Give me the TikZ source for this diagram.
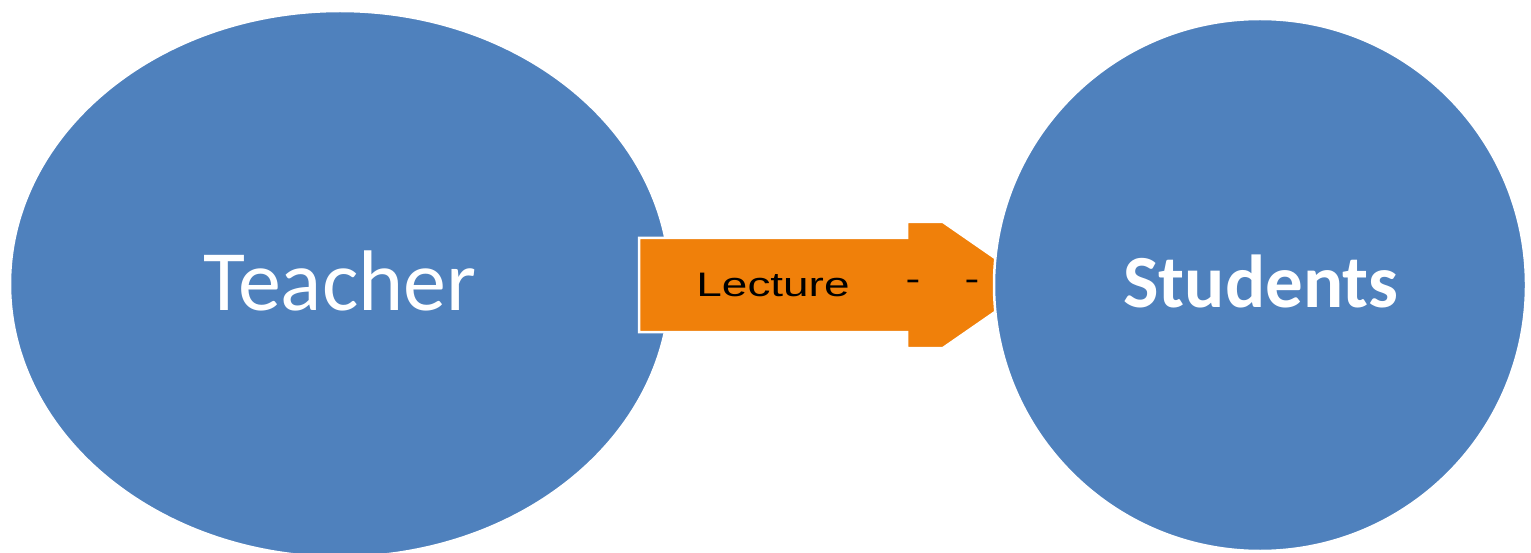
\documentclass[tikz,border=0pt]{standalone}
\usepackage{fontspec}
\usepackage{graphicx}
\setmainfont{Carlito}
\newfontfamily\labelfont{Liberation Sans}
\definecolor{shapeblue}{HTML}{4F81BD}
\definecolor{arroworange}{HTML}{F0800A}
\tikzset{
  blob/.style={fill=shapeblue, draw=white, line width=2.5pt},
  bigtext/.style={text=white, inner sep=0pt},
  flowarrow/.style={fill=arroworange, draw=white, line width=2.5pt, line join=miter},
  arrowtext/.style={text=black, inner sep=0pt, font=\labelfont\fontsize{34}{34}\selectfont}
}
\begin{document}
\begin{tikzpicture}[x=1pt,y=-1pt]
  \useasboundingbox (0,0) rectangle (1531,553);
  \clip (0,0) rectangle (1531,553);
  % left ellipse
  \draw[blob] (340,284) ellipse [x radius=330, y radius=273];
  % block arrow, its point tucked under the circle
  \draw[flowarrow] (639,238) -- (907,238) -- (907,222) -- (943,222)
       -- (1034,285) -- (943,348) -- (907,348) -- (907,332) -- (639,332) -- cycle;
  % right circle
  \draw[blob] (1260,285) circle [radius=266];
  % labels
  \node[bigtext, font=\fontsize{86}{86}\selectfont] (teacher) at (340,281) {Teacher};
  \node[bigtext, font=\bfseries\fontsize{75}{75}\selectfont] (students) at (1261,281) {Students};
  \node[arrowtext] (lecture) at (773,285) {\scalebox{1.35}[1]{Lecture}};
  \node[arrowtext] (dashA) at (913,285) {\scalebox{1.3}[1]{-}};
  \node[arrowtext] (dashB) at (972,285) {\scalebox{1.3}[1]{-}};
\end{tikzpicture}
\end{document}
